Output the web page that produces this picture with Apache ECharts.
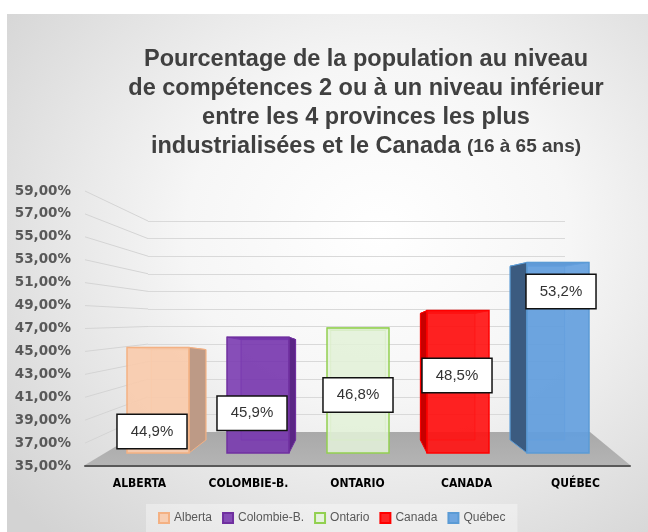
<!DOCTYPE html>
<html>
<head>
<meta charset="utf-8">
<title>Compétences niveau 2</title>
<script src="https://cdn.jsdelivr.net/npm/echarts@6/dist/echarts.min.js"></script>
<style>
  html, body { margin: 0; padding: 0; background: #fff; }
  #panel {
    position: absolute; left: 7px; top: 14px; width: 641px; height: 518px;
    background: radial-gradient(ellipse 75% 80% at 58% 42%, #ffffff 0%, #f6f6f6 40%, #d3d3d3 100%);
  }
  #chart { position: absolute; left: 0; top: 0; width: 648px; height: 532px; }
</style>
</head>
<body>
<div id="panel"></div>
<div id="chart"></div>
<script>
// données
const provinces = ['ALBERTA', 'COLOMBIE-B.', 'ONTARIO', 'CANADA', 'QUÉBEC']
const legendNames = ['Alberta', 'Colombie-B.', 'Ontario', 'Canada', 'Québec']
const shares = [44.9, 45.9, 46.8, 48.5, 53.2]
const axisMin = 35
const axisMax = 59
const axisStep = 2

// styles des boîtes 3D
const faces = [
  { front: 'rgba(248,203,173,0.92)', edge: '#f4b183', side: '#bd9a86', back: 'rgba(225,175,145,0.35)' },
  { front: 'rgba(120,55,175,0.88)', edge: '#7030a0', side: '#5a2585', back: 'rgba(90,30,140,0.35)' },
  { front: 'rgba(228,242,218,0.85)', edge: '#92d050', side: '#b5dc95', back: 'rgba(146,208,80,0.15)' },
  { front: 'rgba(255,20,20,0.92)', edge: '#ff0000', side: '#c80000', back: 'rgba(200,0,0,0.35)' },
  { front: 'rgba(100,160,222,0.92)', edge: '#5b9bd5', side: '#3b5b80', back: 'rgba(60,100,150,0.35)' }
]
// décalage des étiquettes par rapport au haut de la barre
const labelNudge = [[-6, 84], [-6, 76], [0, 67], [-1, 65], [3, 29]]

// plans : avant (axe), mur du fond, barres
const front = { left: 85, top: 191, width: 545, height: 275 }
const back = { left: 148, top: 221, width: 417, height: 211 }
const bars = { left: 108, top: 203, width: 500, height: 250 }
const barBase = 34.6

const pct = v => v.toFixed(2).replace('.', ',') + '%'
const pct1 = v => v.toFixed(1).replace('.', ',') + '%'

function renderBox(params, api) {
  const k = api.value(0)
  const v = api.value(1)
  const f = faces[k]
  const topPt = api.coord([k, v])
  const basePt = api.coord([k, barBase])
  const w = api.size([1, 0])[0] * 0.62
  const cs = params.coordSys
  const mid = cs.x + cs.width / 2
  const xc = topPt[0]
  const xl = xc - w / 2
  const xr = xc + w / 2
  const yT = topPt[1]
  const yB = basePt[1]
  const shift = (mid - xc) * 0.103
  const bw = w * 0.88
  const bxl = xc + shift - bw / 2
  const bxr = xc + shift + bw / 2
  const byT = yT + (yB - yT) * 0.02
  const byB = yB - 13

  const children = [
    { type: 'rect', shape: { x: bxl, y: byT, width: bw, height: byB - byT },
      style: { fill: f.back, stroke: f.edge, lineWidth: 1, opacity: 0.8 } },
    { type: 'polygon', shape: { points: [[xl, yT], [xr, yT], [bxr, byT], [bxl, byT]] },
      style: { fill: f.side, stroke: f.edge, lineWidth: 1 } }
  ]
  if (Math.abs(shift) > 1) {
    const ex = shift > 0 ? xr : xl
    const bx = shift > 0 ? bxr : bxl
    children.push({ type: 'polygon', shape: { points: [[ex, yT], [bx, byT], [bx, byB], [ex, yB]] },
      style: { fill: f.side, stroke: f.edge, lineWidth: 1 } })
  }
  children.push({ type: 'rect', shape: { x: xl, y: yT, width: w, height: yB - yT },
    style: { fill: f.front, stroke: f.edge, lineWidth: 1.5 } })
  children.push({ type: 'text', z2: 20,
    style: {
      text: pct1(v), x: xc + labelNudge[k][0], y: yT + labelNudge[k][1],
      align: 'center', verticalAlign: 'middle',
      fontSize: 15, fontFamily: 'Liberation Sans', fill: '#333',
      backgroundColor: '#fff', borderColor: '#111', borderWidth: 1.5, padding: [9, 13]
    } })
  return { type: 'group', children }
}

const ticks = []
for (let v = axisMin + axisStep; v <= axisMax; v += axisStep) ticks.push(v)
const yFront = v => front.top + (axisMax - v) / (axisMax - axisMin) * front.height
const yBack = v => back.top + (axisMax - v) / (axisMax - axisMin) * back.height

const graphics = ticks.map(v => ({
  type: 'line', z: 0, silent: true,
  shape: { x1: front.left, y1: yFront(v), x2: back.left, y2: yBack(v) },
  style: { stroke: '#d4d4d4', lineWidth: 1 }
}))
graphics.push({
  type: 'polygon', z: 1, silent: true,
  shape: { points: [[front.left, front.top + front.height - 1], [630, front.top + front.height - 1],
    [590, back.top + back.height], [140, back.top + back.height]] },
  style: {
    fill: { type: 'linear', x: 0, y: 0, x2: 0, y2: 1,
      colorStops: [{ offset: 0, color: '#a9a9a9' }, { offset: 1, color: '#b4b4b4' }] }
  }
})

const chart = echarts.init(document.getElementById('chart'))
chart.setOption({
  animation: false,
  title: {
    left: 361, top: 40, textAlign: 'center',
    text: 'Pourcentage de la population au niveau\nde compétences 2 ou à un niveau inférieur\nentre les 4 provinces les plus\nindustrialisées et le Canada {s|(16 à 65 ans)}',
    textStyle: {
      fontFamily: 'Liberation Sans', fontWeight: 'bold', fontSize: 23.5, lineHeight: 29, color: '#404040',
      rich: { s: { fontFamily: 'Liberation Sans', fontWeight: 'bold', fontSize: 19, color: '#404040' } }
    }
  },
  legend: {
    data: legendNames, left: 146, bottom: 0, icon: 'rect', itemWidth: 10, itemHeight: 10, itemGap: 10,
    padding: [8, 12], backgroundColor: 'rgba(255,255,255,0.35)',
    textStyle: { fontFamily: 'Liberation Sans', fontSize: 12, color: '#595959' }
  },
  graphic: graphics,
  grid: [
    { left: front.left, top: front.top, width: front.width, height: front.height },
    { left: back.left, top: back.top, width: back.width, height: back.height },
    { left: bars.left, top: bars.top, width: bars.width, height: bars.height }
  ],
  xAxis: [
    { gridIndex: 0, type: 'category', data: provinces, z: 5,
      axisLine: { lineStyle: { color: '#595959', width: 2 } }, axisTick: { show: false },
      axisLabel: { margin: 12, color: '#000', fontSize: 12, fontWeight: 'bold',
        fontFamily: "'Liberation Sans Narrow', 'DejaVu Sans Condensed', sans-serif" } },
    { gridIndex: 1, type: 'category', data: provinces, show: false },
    { gridIndex: 2, type: 'category', data: provinces, show: false }
  ],
  yAxis: [
    { gridIndex: 0, type: 'value', min: axisMin, max: axisMax, interval: axisStep,
      axisLine: { show: false }, axisTick: { show: false }, splitLine: { show: false },
      axisLabel: { margin: 14, color: '#595959', fontSize: 13.5, fontWeight: 'bold',
        fontFamily: 'DejaVu Sans', formatter: pct } },
    { gridIndex: 1, type: 'value', min: axisMin, max: axisMax, interval: axisStep,
      axisLine: { show: false }, axisTick: { show: false }, axisLabel: { show: false },
      splitLine: { lineStyle: { color: '#d9d9d9', width: 1 } } },
    { gridIndex: 2, type: 'value', min: barBase, max: axisMax, show: false, splitLine: { show: false } }
  ],
  series: legendNames.map((name, k) => ({
    name, type: 'custom', xAxisIndex: 2, yAxisIndex: 2, z: 3,
    itemStyle: { color: faces[k].front, borderColor: faces[k].edge, borderWidth: 1 },
    renderItem: renderBox,
    data: [[k, shares[k]]]
  }))
})
</script>
</body>
</html>
